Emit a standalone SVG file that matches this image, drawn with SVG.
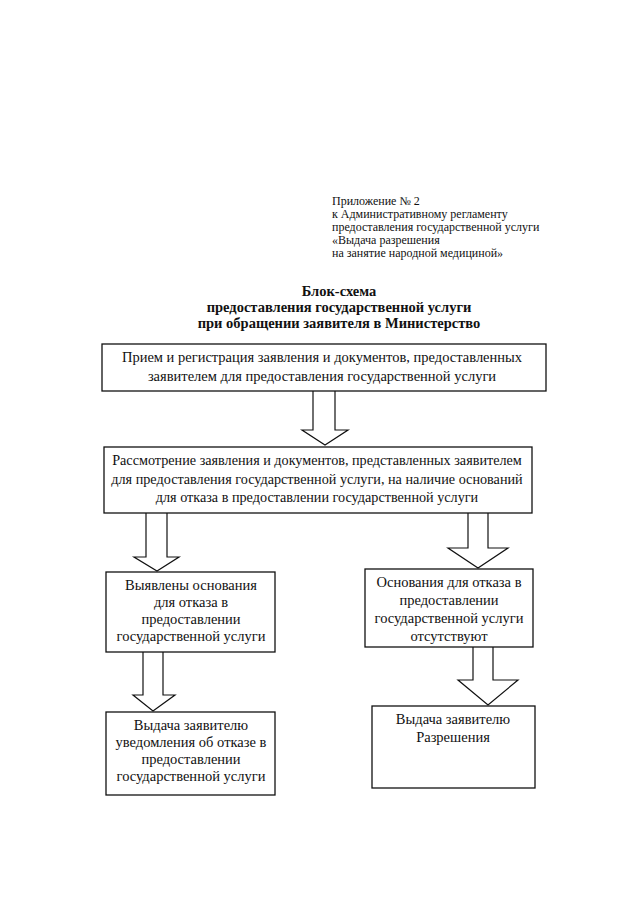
<svg xmlns="http://www.w3.org/2000/svg" width="640" height="905" viewBox="0 0 640 905">
<style>
.bg{fill:#fff}
.box{fill:#fff;stroke:#111;stroke-width:1.3}
.arr{fill:#fff;stroke:#111;stroke-width:1.2;stroke-linejoin:miter}
text{font-family:"Liberation Serif","Times New Roman",serif;fill:#111}
.hdr{font-size:12px}
.ttl{font-size:14.5px;font-weight:bold;text-anchor:middle}
.t{font-size:14.5px;text-anchor:middle}
.t2{font-size:14.2px;text-anchor:middle}
</style>
<rect class="bg" x="0" y="0" width="640" height="905"/>
<g id="header">
<text class="hdr" x="332" y="205">Приложение № 2</text>
<text class="hdr" x="332" y="218">к Административному регламенту</text>
<text class="hdr" x="332" y="231">предоставления государственной услуги</text>
<text class="hdr" x="332" y="244">«Выдача разрешения</text>
<text class="hdr" x="332" y="257">на занятие народной медициной»</text>
</g>
<g id="title">
<text class="ttl" x="339" y="296">Блок-схема</text>
<text class="ttl" x="339" y="312">предоставления государственной услуги</text>
<text class="ttl" x="339" y="328">при обращении заявителя в Министерство</text>
</g>
<g id="connectors">
<polyline class="arr" points="313,391 313,430 302,430 325,445 348,430 335,430 335,391"/>
<polyline class="arr" points="146,513 146,557 134,557 157,571 179,557 167,557 167,513"/>
<polyline class="arr" points="468,513 468,548 448,548 478,568 508,548 488,548 488,513"/>
<polyline class="arr" points="143,652 143,695 133,695 153,711 175,695 163,695 163,652"/>
<polyline class="arr" points="473,647 473,680 458,680 488,705 518,680 493,680 493,647"/>
</g>
<g id="node1">
<rect class="box" x="102" y="344" width="444" height="47"/>
<text class="t" x="322" y="362">Прием и регистрация заявления и документов, предоставленных</text>
<text class="t" x="322" y="381">заявителем для предоставления государственной услуги</text>
</g>
<g id="node2">
<rect class="box" x="104" y="447" width="428" height="66"/>
<text class="t2" x="317" y="465">Рассмотрение заявления и документов, представленных заявителем</text>
<text class="t2" x="317" y="484">для предоставления государственной услуги, на наличие оснований</text>
<text class="t2" x="317" y="502">для отказа в предоставлении государственной услуги</text>
</g>
<g id="node3">
<rect class="box" x="106" y="572" width="169" height="80"/>
<text class="t" x="191" y="590">Выявлены основания</text>
<text class="t" x="191" y="607">для отказа в</text>
<text class="t" x="191" y="624">предоставлении</text>
<text class="t" x="191" y="641">государственной услуги</text>
</g>
<g id="node4">
<rect class="box" x="106" y="712" width="169" height="83"/>
<text class="t" x="191" y="730">Выдача заявителю</text>
<text class="t" x="191" y="747">уведомления об отказе в</text>
<text class="t" x="191" y="764">предоставлении</text>
<text class="t" x="191" y="781">государственной услуги</text>
</g>
<g id="node5">
<rect class="box" x="365" y="569" width="168" height="78"/>
<text class="t" x="449" y="587">Основания для отказа в</text>
<text class="t" x="449" y="605">предоставлении</text>
<text class="t" x="449" y="623">государственной услуги</text>
<text class="t" x="449" y="641">отсутствуют</text>
</g>
<g id="node6">
<rect class="box" x="372" y="706" width="163" height="82"/>
<text class="t" x="453" y="724">Выдача заявителю</text>
<text class="t" x="453" y="742">Разрешения</text>
</g>
</svg>
